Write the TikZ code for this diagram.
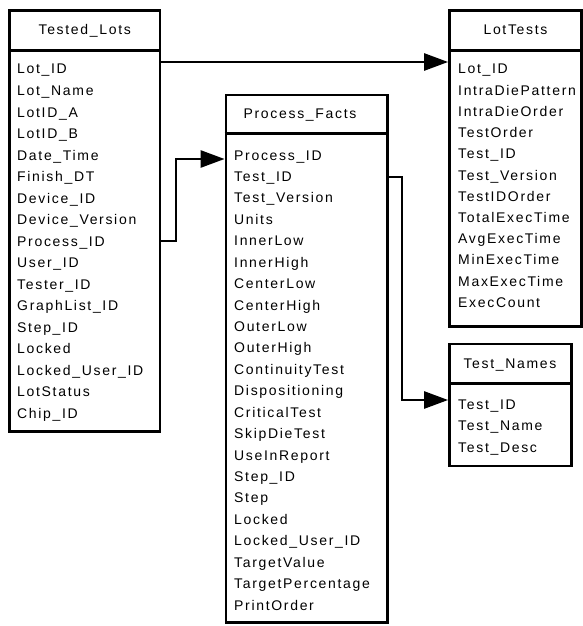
\documentclass[tikz,border=0pt]{standalone}
\usepackage{fontspec}
\setmainfont{Liberation Sans}
\newfontfamily\fieldfont{Liberation Sans}[LetterSpace=12]
\usetikzlibrary{arrows.meta}
\begin{document}
\begin{tikzpicture}[x=1pt,y=-1pt,
  tablebox/.style={draw=black,line width=2.8pt,fill=white,inner sep=0pt},
  rule/.style={line width=2.8pt},
  title/.style={anchor=base,inner sep=0pt,font=\fieldfont\fontsize{14}{16}\selectfont},
  field/.style={anchor=base west,inner sep=0pt,font=\fieldfont\fontsize{14}{16}\selectfont},
  link/.style={line width=2.6pt,-{Triangle[length=24pt,width=17pt]}}
]
\useasboundingbox (0,0) rectangle (583,626);

% table frames
\node[tablebox,minimum width=150.5pt,minimum height=421pt] (tl) at (84.75,221) {};
\node[tablebox,minimum width=132pt,minimum height=316pt] (lt) at (515.5,168.5) {};
\node[tablebox,minimum width=161.5pt,minimum height=527.5pt] (pf) at (306.75,358.75) {};
\node[tablebox,minimum width=122pt,minimum height=122pt] (tn) at (510.5,405) {};

% header rules
\draw[rule] (tl.west |- 0,50.5) -- (tl.east |- 0,50.5);
\draw[rule] (lt.west |- 0,50.5) -- (lt.east |- 0,50.5);
\draw[rule] (pf.west |- 0,133.5) -- (pf.east |- 0,133.5);
\draw[rule] (tn.west |- 0,383.5) -- (tn.east |- 0,383.5);

% table names
\node[title] (tl-title) at (84.75,35) {Tested\_Lots};
\node[title] (lt-title) at (515.5,35) {LotTests};
\node[title] (pf-title) at (300,118) {Process\_Facts};
\node[title] (tn-title) at (510,368) {Test\_Names};

% columns
\foreach \f [count=\i from 0] in {Lot\_ID,Lot\_Name,LotID\_A,LotID\_B,Date\_Time,Finish\_DT,Device\_ID,Device\_Version,Process\_ID,User\_ID,Tester\_ID,GraphList\_ID,Step\_ID,Locked,Locked\_User\_ID,LotStatus,Chip\_ID}
  \node[field] (tl-\i) at (17,{74+21.5*\i}) {\f};

\foreach \f [count=\i from 0] in {Lot\_ID,IntraDiePattern,IntraDieOrder,TestOrder,Test\_ID,Test\_Version,TestIDOrder,TotalExecTime,AvgExecTime,MinExecTime,MaxExecTime,ExecCount}
  \node[field] (lt-\i) at (458,{74+21.2*\i}) {\f};

\foreach \f [count=\i from 0] in {Process\_ID,Test\_ID,Test\_Version,Units,InnerLow,InnerHigh,CenterLow,CenterHigh,OuterLow,OuterHigh,ContinuityTest,Dispositioning,CriticalTest,SkipDieTest,UseInReport,Step\_ID,Step,Locked,Locked\_User\_ID,TargetValue,TargetPercentage,PrintOrder}
  \node[field] (pf-\i) at (234,{160+21.43*\i}) {\f};

\foreach \f [count=\i from 0] in {Test\_ID,Test\_Name,Test\_Desc}
  \node[field] (tn-\i) at (458,{409+21.5*\i}) {\f};

% relationships
\draw[link] (tl.east |- 0,62) -- (lt.west |- 0,62);
\draw[link] (tl.east |- 0,241) -| (176,159) -- (pf.west |- 0,159);
\draw[link] (pf.east |- 0,177) -| (402,400) -- (tn.west |- 0,400);
\end{tikzpicture}
\end{document}
